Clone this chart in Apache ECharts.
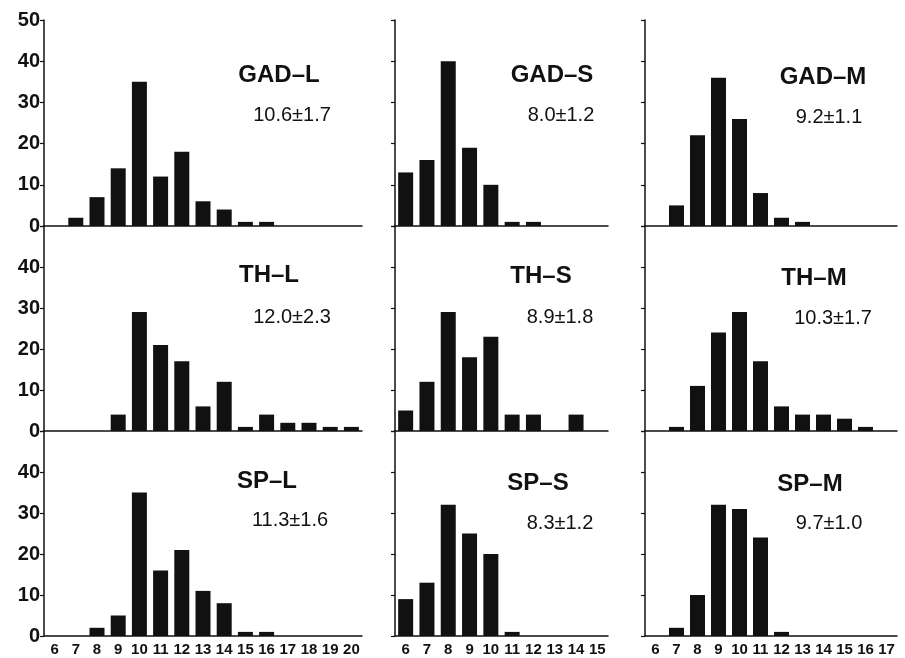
<!DOCTYPE html>
<html>
<head>
<meta charset="utf-8">
<script src="https://cdn.jsdelivr.net/npm/echarts@6/dist/echarts.min.js"></script>
<style>
  html, body { margin: 0; padding: 0; background: #fff; }
  #chart { width: 905px; height: 658px; }
</style>
</head>
<body>
<div id="chart"></div>
<script>
// category labels (body length classes) per column
const catsL = ['6', '7', '8', '9', '10', '11', '12', '13', '14', '15', '16', '17', '18', '19', '20'];
const catsS = ['6', '7', '8', '9', '10', '11', '12', '13', '14', '15'];
const catsM = ['6', '7', '8', '9', '10', '11', '12', '13', '14', '15', '16', '17'];

// frequencies
const gadL = [0, 2, 7, 14, 35, 12, 18, 6, 4, 1, 1, 0, 0, 0, 0];
const thL  = [0, 0, 0, 4, 29, 21, 17, 6, 12, 1, 4, 2, 2, 1, 1];
const spL  = [0, 0, 2, 5, 35, 16, 21, 11, 8, 1, 1, 0, 0, 0, 0];
const gadS = [13, 16, 40, 19, 10, 1, 1, 0, 0, 0];
const thS  = [5, 12, 29, 18, 23, 4, 4, 0, 4, 0];
const spS  = [9, 13, 32, 25, 20, 1, 0, 0, 0, 0];
const gadM = [0, 5, 22, 36, 26, 8, 2, 1, 0, 0, 0, 0];
const thM  = [0, 1, 11, 24, 29, 17, 6, 4, 4, 3, 1, 0];
const spM  = [0, 2, 10, 32, 31, 24, 1, 0, 0, 0, 0, 0];

const names = ['GAD–L', 'GAD–S', 'GAD–M', 'TH–L', 'TH–S', 'TH–M', 'SP–L', 'SP–S', 'SP–M'];
const stats = ['10.6±1.7', '8.0±1.2', '9.2±1.1', '12.0±2.3', '8.9±1.8', '10.3±1.7', '11.3±1.6', '8.3±1.2', '9.7±1.0'];
const yTicks = [0, 10, 20, 30, 40, 50];

// panel layout (pixels)
const COLS = [
  { left: 44, width: 318, cats: catsL },
  { left: 395, width: 213, cats: catsS },
  { left: 645, width: 252, cats: catsM },
];
const ROWS = [
  { top: 20, height: 206 },
  { top: 226, height: 205 },
  { top: 431, height: 205 },
];
const PANEL_DATA = [gadL, gadS, gadM, thL, thS, thM, spL, spS, spM];
// label anchor points: [nameX, nameY, statX, statY]
const LABEL_POS = [
  [279, 75, 292, 115], [552, 75, 561, 115], [823, 77, 829, 117],
  [269, 275, 292, 317], [541, 276, 560, 317], [814, 278, 833, 318],
  [267, 481, 290, 520], [538, 483, 560, 523], [810, 484, 829, 523],
];

const INK = '#111';
const FONT = '"Liberation Sans", Arial, sans-serif';

const grid = [], xAxis = [], yAxis = [], series = [], graphic = [];

ROWS.forEach((r, ri) => {
  COLS.forEach((c, ci) => {
    const i = ri * 3 + ci;
    grid.push({ left: c.left, width: c.width, top: r.top, height: r.height });
    xAxis.push({
      type: 'category', gridIndex: i, data: c.cats,
      axisLine: { lineStyle: { color: INK, width: 1.5 } },
      axisTick: { show: false },
      axisLabel: {
        show: ri === 2, interval: 0, color: INK, fontFamily: FONT,
        fontWeight: 'bold', fontSize: 15, margin: 6,
      },
    });
    yAxis.push({
      type: 'value', gridIndex: i, min: yTicks[0], max: yTicks[yTicks.length - 1], interval: 10,
      axisLine: { show: true, lineStyle: { color: INK, width: 1.5 } },
      axisTick: { show: true, length: 4, lineStyle: { color: INK, width: 1.2 } },
      splitLine: { show: false },
      axisLabel: {
        show: ci === 0, color: INK, fontFamily: FONT, fontWeight: 'bold', fontSize: 20, margin: 4,
        formatter: v => (ri > 0 && v === 50) ? '' : String(v),
      },
    });
    series.push({
      type: 'bar', xAxisIndex: i, yAxisIndex: i, data: PANEL_DATA[i],
      barWidth: 15, itemStyle: { color: INK }, silent: true,
    });
    const p = LABEL_POS[i];
    graphic.push({
      type: 'text', x: p[0], y: p[1],
      style: { text: names[i], font: `bold 24px ${FONT}`, fill: INK,
               align: 'center', verticalAlign: 'middle', textAlign: 'center', textVerticalAlign: 'middle' },
    });
    graphic.push({
      type: 'text', x: p[2], y: p[3],
      style: { text: stats[i], font: `20px ${FONT}`, fill: INK,
               align: 'center', verticalAlign: 'middle', textAlign: 'center', textVerticalAlign: 'middle' },
    });
  });
});

const chart = echarts.init(document.getElementById('chart'), null, { renderer: 'canvas' });
chart.setOption({
  animation: false,
  backgroundColor: '#fff',
  grid, xAxis, yAxis, series, graphic,
});
</script>
</body>
</html>
